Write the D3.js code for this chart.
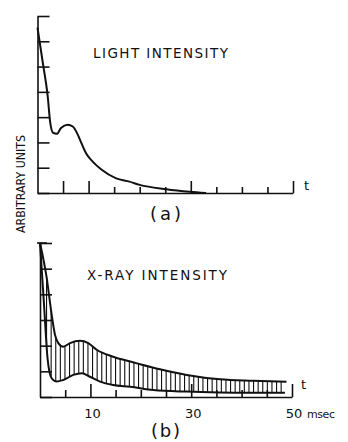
<!DOCTYPE html>
<html>
<head>
<meta charset="utf-8">
<script src="https://cdn.jsdelivr.net/npm/d3@7"></script>
<style>
  body { margin: 0; background: #fff; }
  text { font-family: "DejaVu Sans", sans-serif; fill: #111; }
</style>
</head>
<body>
<div id="chart-area"></div>
<script>
// datos (t en msec, valor en unidades arbitrarias)
var lightT   = [0, 1, 2, 2.5, 3.0, 3.8, 4.6, 5.9, 6.9, 7.9, 8.6, 9.5, 10.8, 12.5, 15.4, 18, 20, 25.2, 29.8, 33];
var lightVal = [6.54, 5.2, 3.82, 2.77, 2.39, 2.34, 2.57, 2.70, 2.63, 2.30, 1.97, 1.57, 1.24, 0.93, 0.58, 0.45, 0.32, 0.15, 0.05, 0.0];

var xrayUpT   = [0, 1.33, 2.32, 2.98, 3.63, 4.62, 5.95, 7.94, 9.58, 11.25, 14.5, 17.9, 19.8, 23.8, 29.1, 35.7, 42.3, 48.9];
var xrayUpVal = [6.0, 4.64, 3.2, 2.42, 2.10, 1.96, 2.10, 2.19, 2.10, 1.84, 1.57, 1.38, 1.28, 1.08, 0.86, 0.69, 0.63, 0.59];

var xrayLoT   = [0, 0.8, 1.5, 1.9, 2.32, 3.3, 4.6, 6.6, 8.3, 9.9, 11.9, 14.5, 17.9, 22.5, 29.1, 35.7, 41, 48.6];
var xrayLoVal = [6.0, 3.6, 1.5, 0.95, 0.73, 0.60, 0.66, 0.86, 0.93, 0.79, 0.60, 0.47, 0.40, 0.27, 0.21, 0.18, 0.17, 0.17];

var tickT = [5, 10, 15, 20, 25, 30, 35, 40, 45, 50];
var majorA = [5, 10, 30, 50];
var majorB = [10, 30, 50];
var tickLabels = [10, 30, 50];

var width = 348, height = 442;

var svg = d3.select("#chart-area")
    .append("svg")
    .attr("width", width)
    .attr("height", height);

// escalas
var xA = d3.scaleLinear().domain([0, 50]).range([37.5, 293]);
var yA = d3.scaleLinear().domain([0, 7]).range([193, 16]);
var xB = d3.scaleLinear().domain([0, 50]).range([40, 292]);
var yB = d3.scaleLinear().domain([0, 6]).range([397, 243]);

function zip(ts, vs) { return ts.map((t, i) => ({t: t, v: vs[i]})); }

// ejes (a)
svg.append("g")
    .attr("transform", "translate(" + xA(0) + ",0)")
    .call(d3.axisRight(yA).ticks(7).tickSize(12).tickSizeOuter(0).tickFormat(""))
    .call(g => g.selectAll("line, path").attr("stroke", "#111").attr("stroke-width", 1.6));

svg.append("g")
    .attr("transform", "translate(0," + yA(0) + ")")
    .call(d3.axisTop(xA).tickValues(tickT).tickSizeOuter(0).tickFormat(""))
    .call(g => g.selectAll("line, path").attr("stroke", "#111").attr("stroke-width", 1.6))
    .call(g => g.selectAll(".tick line").attr("y2", d => majorA.includes(d) ? -12 : -6));

// ejes (b)
svg.append("g")
    .attr("transform", "translate(" + xB(0) + ",0)")
    .call(d3.axisRight(yB).ticks(6).tickSize(12).tickSizeOuter(0).tickFormat(""))
    .call(g => g.selectAll("line, path").attr("stroke", "#111").attr("stroke-width", 1.6));

svg.append("line")
    .attr("x1", xB(0) - 3).attr("x2", xB(0) + 7)
    .attr("y1", yB(6)).attr("y2", yB(6))
    .attr("stroke", "#111").attr("stroke-width", 1.6);

svg.append("g")
    .attr("transform", "translate(0," + yB(0) + ")")
    .call(d3.axisTop(xB).tickValues(tickT).tickSizeOuter(0).tickFormat(""))
    .call(g => g.selectAll("line, path").attr("stroke", "#111").attr("stroke-width", 1.6))
    .call(g => g.selectAll(".tick line").attr("y2", d => majorB.includes(d) ? -13 : -7));

// curvas
var lineA = d3.line().x(d => xA(d.t)).y(d => yA(d.v)).curve(d3.curveMonotoneX);
var lineB = d3.line().x(d => xB(d.t)).y(d => yB(d.v)).curve(d3.curveMonotoneX);

svg.append("path")
    .attr("d", lineA(zip(lightT, lightVal)))
    .attr("fill", "none").attr("stroke", "#111").attr("stroke-width", 2);

var upPath = svg.append("path")
    .attr("d", lineB(zip(xrayUpT, xrayUpVal)))
    .attr("fill", "none").attr("stroke", "#111").attr("stroke-width", 2);

var loPath = svg.append("path")
    .attr("d", lineB(zip(xrayLoT, xrayLoVal)))
    .attr("fill", "none").attr("stroke", "#111").attr("stroke-width", 2);

// buscar y sobre el path para una x dada
function yAt(pathNode, x) {
    var len = pathNode.getTotalLength();
    var lo = 0, hi = len;
    for (var i = 0; i < 30; i++) {
        var mid = (lo + hi) / 2;
        if (pathNode.getPointAtLength(mid).x < x) lo = mid; else hi = mid;
    }
    return pathNode.getPointAtLength(lo).y;
}

// rayado vertical entre las dos curvas
var hatchX = d3.range(xB(1.3), xB(48.7), 4.6);
svg.append("g")
    .selectAll("line")
    .data(hatchX)
    .enter().append("line")
    .attr("x1", d => d).attr("x2", d => d)
    .attr("y1", d => yAt(upPath.node(), d))
    .attr("y2", d => yAt(loPath.node(), d))
    .attr("stroke", "#111").attr("stroke-width", 1.1);

// textos
svg.append("text")
    .attr("x", 93).attr("y", 58)
    .attr("font-size", "13.5px")
    .attr("textLength", 135).attr("lengthAdjust", "spacing")
    .text("LIGHT INTENSITY");

svg.append("text")
    .attr("x", 87).attr("y", 280)
    .attr("font-size", "13.5px")
    .attr("textLength", 140).attr("lengthAdjust", "spacing")
    .text("X-RAY INTENSITY");

svg.append("text")
    .attr("transform", "translate(25,184) rotate(-90)")
    .attr("text-anchor", "middle")
    .attr("font-size", "13px")
    .attr("textLength", 98).attr("lengthAdjust", "spacingAndGlyphs")
    .text("ARBITRARY UNITS");

svg.append("text").attr("x", 304).attr("y", 190).attr("font-size", "13px").text("t");
svg.append("text").attr("x", 301).attr("y", 389).attr("font-size", "13px").text("t");

svg.selectAll(".tlabel")
    .data(tickLabels)
    .enter().append("text")
    .attr("class", "tlabel")
    .attr("x", d => xB(d) + 2)
    .attr("y", 418)
    .attr("text-anchor", "middle")
    .attr("font-size", "13px")
    .text(d => d);

svg.append("text")
    .attr("x", 307).attr("y", 418)
    .attr("font-size", "11px")
    .attr("textLength", 28).attr("lengthAdjust", "spacing")
    .text("msec");

svg.append("text")
    .attr("x", 150).attr("y", 220)
    .attr("font-size", "18px")
    .attr("textLength", 31).attr("lengthAdjust", "spacing")
    .text("(a)");

svg.append("text")
    .attr("x", 151).attr("y", 437)
    .attr("font-size", "18px")
    .attr("textLength", 29).attr("lengthAdjust", "spacing")
    .text("(b)");
</script>
</body>
</html>
